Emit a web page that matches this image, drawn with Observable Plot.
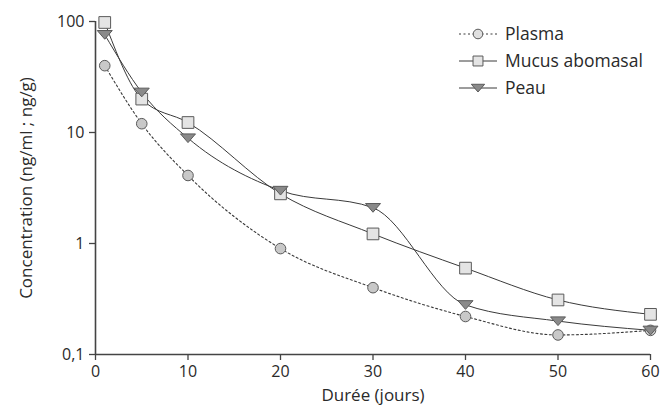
<!DOCTYPE html>
<html><head><meta charset="utf-8">
<script src="https://cdn.jsdelivr.net/npm/d3@7"></script>
<script src="https://cdn.jsdelivr.net/npm/@observablehq/plot@0.6"></script>
<style>
body{margin:0;background:#fff;font-family:"Open Sans",sans-serif;}
#wrap{position:relative;width:669px;height:410px;}
#legend{position:absolute;left:0;top:0;}
#wrap svg text{font-family:"Open Sans",sans-serif;fill:#2a2a2a;}
#wrap g[aria-label="x-axis tick label"] text, #wrap g[aria-label="y-axis tick label"] text{font-size:16px;}
#wrap g[aria-label="x-axis label"] text, #wrap g[aria-label="y-axis label"] text{font-size:17px;}
</style></head><body>
<div id="wrap"></div>
<script>
const days = [1, 5, 10, 20, 30, 40, 50, 60];
const plasma = [40, 12, 4.1, 0.9, 0.4, 0.22, 0.15, 0.165];
const mucus = [98, 20, 12.3, 2.8, 1.22, 0.6, 0.31, 0.23];
const peau = [76, 23, 8.9, 3.0, 2.1, 0.28, 0.2, 0.165];
const seriesNames = ["Plasma", "Mucus abomasal", "Peau"];
const yTicks = [0.1, 1, 10, 100];
const yTickLabels = ["0,1", "1", "10", "100"];
const xTicks = [0, 10, 20, 30, 40, 50, 60];

const mk = (vals) => days.map((d, i) => ({x: d, y: vals[i]}));
const P = mk(plasma), M = mk(mucus), T = mk(peau);
const axisColor = "#444";
const lineColor = "#3a3a3a";
const mStroke = "#5a5a5a";

// wide, flat downward triangle
const triDown = {
  draw(ctx, size) {
    const s = Math.sqrt(size) / 12.4;
    ctx.moveTo(-7.5 * s, -4.2 * s);
    ctx.lineTo(7.5 * s, -4.2 * s);
    ctx.lineTo(0, 4.5 * s);
    ctx.closePath();
  }
};
const fmtY = (d) => yTickLabels[yTicks.indexOf(d)];

const chart = Plot.plot({
  width: 669, height: 410,
  marginLeft: 95, marginRight: 19, marginTop: 21, marginBottom: 56,
  style: {fontFamily: "'Open Sans', sans-serif", background: "white"},
  x: {domain: [0, 60]},
  y: {type: "log", domain: [0.1, 100]},
  marks: [
    Plot.axisX({ticks: xTicks, tickSize: 6, tickPadding: 5, stroke: axisColor, strokeWidth: 1.3, label: "Durée (jours)", labelAnchor: "center", labelArrow: "none", labelOffset: 46}),
    Plot.axisY({ticks: yTicks, tickFormat: fmtY, tickSize: 6, tickPadding: 5, stroke: axisColor, strokeWidth: 1.3, label: "Concentration (ng/ml ; ng/g)", labelAnchor: "center", labelArrow: "none", labelOffset: 76}),
    Plot.ruleY([0.1], {stroke: axisColor, strokeWidth: 1.6}),
    Plot.ruleX([0], {stroke: axisColor, strokeWidth: 1.6}),
    Plot.line(P, {x: "x", y: "y", curve: "monotone-x", stroke: lineColor, strokeWidth: 1.1, strokeDasharray: "2,2.5"}),
    Plot.line(M, {x: "x", y: "y", curve: "monotone-x", stroke: lineColor, strokeWidth: 1}),
    Plot.line(T, {x: "x", y: "y", curve: "monotone-x", stroke: lineColor, strokeWidth: 1}),
    Plot.dot(P, {x: "x", y: "y", symbol: "circle", r: 5.3, fill: "#c8c8c8", stroke: mStroke, strokeWidth: 1}),
    Plot.dot(M, {x: "x", y: "y", symbol: "square", r: 6.6, fill: "#e4e4e4", stroke: mStroke, strokeWidth: 1}),
    Plot.dot(T, {x: "x", y: "y", symbol: triDown, r: 7, fill: "#8a8a8a", stroke: mStroke, strokeWidth: 1})
  ]
});
document.getElementById("wrap").appendChild(chart);

// legend overlay
const lg = d3.select("#wrap").append("svg").attr("id", "legend").attr("width", 669).attr("height", 410);
const items = [
  {name: seriesNames[0], dash: "2,2.5", sym: d3.symbolCircle, r: 4.8, fill: "#e0e0e0"},
  {name: seriesNames[1], dash: null, sym: d3.symbolSquare, r: 5.6, fill: "#e4e4e4"},
  {name: seriesNames[2], dash: null, sym: triDown, r: 6.2, fill: "#8a8a8a"}
];
items.forEach((it, i) => {
  const cy = 34 + i * 27;
  const g = lg.append("g").attr("transform", `translate(0,${cy})`);
  g.append("line").attr("x1", 459).attr("x2", 497).attr("y1", 0).attr("y2", 0)
    .attr("stroke", lineColor).attr("stroke-width", 1).attr("stroke-dasharray", it.dash);
  g.append("path").attr("d", d3.symbol(it.sym, it.r * it.r * Math.PI)())
    .attr("transform", `translate(478,0)`)
    .attr("fill", it.fill).attr("stroke", mStroke).attr("stroke-width", 1);
  g.append("text").attr("x", 505).attr("y", 0).attr("dy", "0.35em")
    .attr("font-size", 17.5).text(it.name);
});
</script>
</body></html>
